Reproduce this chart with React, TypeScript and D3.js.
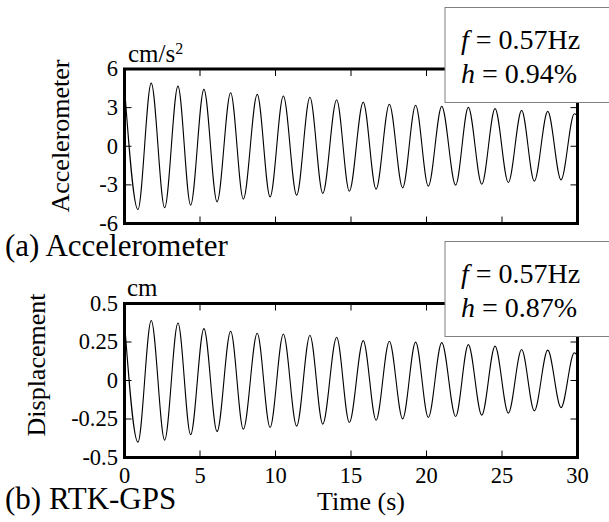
import React from "react";
import * as d3 from "d3";

// Extremum times (s), plus start and end of record
const times = [0, 0.89, 1.77, 2.66, 3.54, 4.38, 5.26, 6.13, 7.03, 7.87, 8.79, 9.64, 10.52, 11.4, 12.28, 13.13, 14.05, 14.89, 15.81, 16.66, 17.54, 18.42, 19.28, 20.12, 21.01, 21.93, 22.77, 23.66, 24.54, 25.42, 26.3, 27.14, 28.03, 28.91, 29.79, 30];
// Accelerometer (cm/s^2) values at those times
const accValues = [4.6, -4.91, 4.9, -4.78, 4.67, -4.57, 4.42, -4.32, 4.16, -4.11, 4.03, -3.93, 3.9, -3.8, 3.8, -3.67, 3.61, -3.49, 3.43, -3.33, 3.26, -3.23, 3.18, -3.1, 3.1, -3.02, 3.02, -2.95, 2.92, -2.82, 2.79, -2.71, 2.71, -2.61, 2.53, 2.4];
// RTK-GPS displacement (cm) values at those times
const dispValues = [0.38, -0.4, 0.39, -0.387, 0.373, -0.352, 0.337, -0.331, 0.32, -0.316, 0.307, -0.305, 0.302, -0.296, 0.294, -0.283, 0.281, -0.273, 0.259, -0.258, 0.255, -0.249, 0.249, -0.24, 0.246, -0.234, 0.233, -0.225, 0.223, -0.212, 0.201, -0.197, 0.197, -0.176, 0.18, 0.16];

const xTicks = [0, 5, 10, 15, 20, 25, 30];
const accTicks = [-6, -3, 0, 3, 6];
const accTickLabels = ["-6", "-3", "0", "3", "6"];
const dispTicks = [-0.5, -0.25, 0, 0.25, 0.5];
const dispTickLabels = ["-0.5", "-0.25", "0", "0.25", "0.5"];

const FONT = "'Liberation Serif', 'Times New Roman', serif";

const X0 = 124.5;
const X1 = 577.5;
const TICK = 7;
const TICK_FS = 22.5;

type PanelProps = {
  top: number;
  bottom: number;
  domain: [number, number];
  ticks: number[];
  tickLabels: string[];
  values: number[];
  showXLabels: boolean;
};

function Panel({ top, bottom, domain, ticks, tickLabels, values, showXLabels }: PanelProps) {
  const x = d3.scaleLinear().domain([0, 30]).range([X0, X1]);
  const y = d3.scaleLinear().domain(domain).range([bottom, top]);
  const line = d3
    .line<number>()
    .x((_, i) => x(times[i]))
    .y((v) => y(v))
    .curve(d3.curveMonotoneX);
  return (
    <g>
      <path d={line(values) || ""} fill="none" stroke="#000" strokeWidth={1.1} />
      {xTicks.map((t) => (
        <g key={"xt" + t}>
          <line x1={x(t)} x2={x(t)} y1={top} y2={top + TICK} stroke="#000" strokeWidth={1} />
          <line x1={x(t)} x2={x(t)} y1={bottom} y2={bottom - TICK} stroke="#000" strokeWidth={1} />
          {showXLabels && (
            <text x={x(t)} y={bottom + 25.5} textAnchor="middle" fontSize={TICK_FS} fontFamily={FONT}>
              {t}
            </text>
          )}
        </g>
      ))}
      {ticks.map((t, i) => (
        <g key={"yt" + t}>
          <line x1={X0} x2={X0 + TICK} y1={y(t)} y2={y(t)} stroke="#000" strokeWidth={1} />
          <line x1={X1} x2={X1 - TICK} y1={y(t)} y2={y(t)} stroke="#000" strokeWidth={1} />
          <text x={118} y={y(t)} dy="0.33em" textAnchor="end" fontSize={TICK_FS} fontFamily={FONT}>
            {tickLabels[i]}
          </text>
        </g>
      ))}
      <rect x={X0} y={top} width={X1 - X0} height={bottom - top} fill="none" stroke="#000" strokeWidth={3} />
    </g>
  );
}

function InfoBox({ top, h }: { top: number; h: string }) {
  return (
    <g fontFamily={FONT} fontSize={28}>
      <rect x={445} y={top} width={200} height={95} fill="#fff" stroke="#808080" strokeWidth={1} />
      <text x={461} y={top + 41.5}>
        <tspan fontStyle="italic">f</tspan>
        <tspan> = 0.57Hz</tspan>
      </text>
      <text x={461} y={top + 75.5}>
        <tspan fontStyle="italic">h</tspan>
        <tspan> = {h}</tspan>
      </text>
    </g>
  );
}

export default function App() {
  return (
    <svg
      width={609}
      height={522}
      style={{ position: "absolute", left: 0, top: 0, background: "#fff" }}
    >
      <rect width={609} height={522} fill="#fff" />
      <Panel top={69} bottom={223.5} domain={[-6, 6]} ticks={accTicks} tickLabels={accTickLabels} values={accValues} showXLabels={false} />
      <Panel top={303.5} bottom={457.5} domain={[-0.5, 0.5]} ticks={dispTicks} tickLabels={dispTickLabels} values={dispValues} showXLabels={true} />

      <text x={128} y={61.5} fontSize={25} fontFamily={FONT}>
        cm/s<tspan dy={-8} fontSize={16}>2</tspan>
      </text>
      <text x={127} y={296} fontSize={25} fontFamily={FONT}>cm</text>

      <text transform="translate(69,136) rotate(-90)" textAnchor="middle" fontSize={26} fontFamily={FONT}>
        Accelerometer
      </text>
      <text transform="translate(45,365) rotate(-90)" textAnchor="middle" fontSize={26} fontFamily={FONT}>
        Displacement
      </text>

      <text x={361} y={510} textAnchor="middle" fontSize={26} fontFamily={FONT}>Time (s)</text>
      <text x={5} y={256} fontSize={31} fontFamily={FONT}>(a) Accelerometer</text>
      <text x={5} y={509} fontSize={31} fontFamily={FONT}>(b) RTK-GPS</text>

      <InfoBox top={7.5} h="0.94%" />
      <InfoBox top={241.5} h="0.87%" />
    </svg>
  );
}
